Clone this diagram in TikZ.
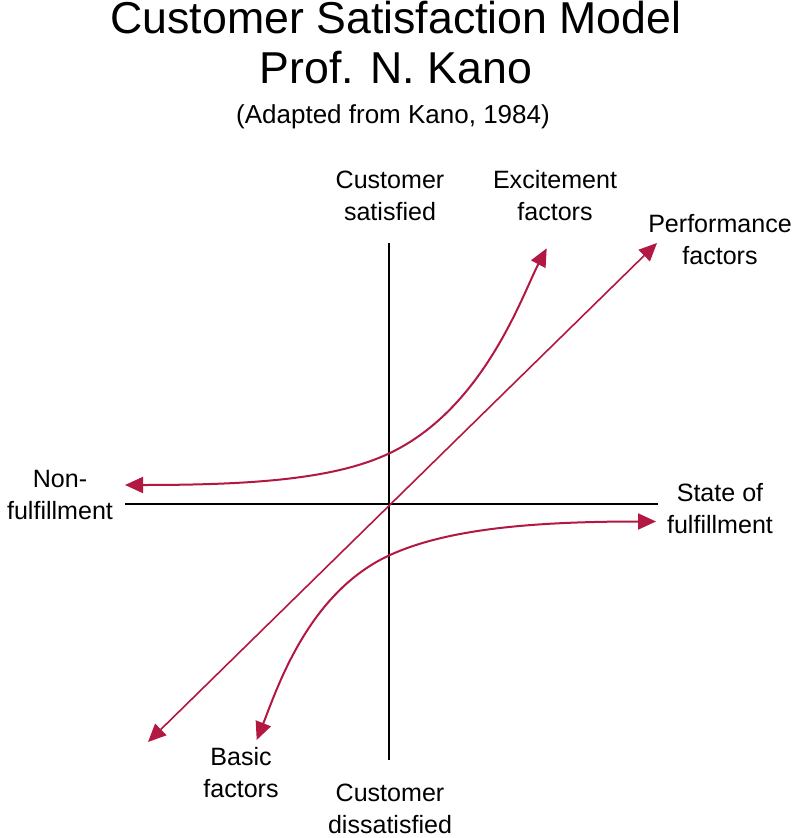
\documentclass[tikz,border=0pt]{standalone}
\usepackage{fontspec}
\setmainfont{Liberation Sans}
\usetikzlibrary{arrows.meta}
\definecolor{kanored}{RGB}{178,24,66}
\begin{document}
\begin{tikzpicture}[x=0.75pt,y=-0.75pt,
  axis/.style={line width=1.6pt, black},
  curve/.style={line width=1.5pt, kanored, {Triangle[length=13.5pt,width=12pt]}-{Triangle[length=13.5pt,width=12pt]}},
  lab/.style={font=\fontsize{18.8}{23.3}\selectfont, align=center, anchor=base, inner sep=0pt},
  ttl/.style={font=\fontsize{33.5}{40}\selectfont, anchor=base, inner sep=0pt},
  sub/.style={font=\fontsize{19.5}{23}\selectfont, anchor=base, inner sep=0pt}
  ]
\useasboundingbox[fill=white] (0,0) rectangle (795,838);
% titles
\node[ttl] (title) at (396,34) {Customer Satisfaction Model};
\node[ttl] (prof) at (396,84) {Prof. N. Kano};
\node[sub] (adapted) at (393,124) {(Adapted from Kano, 1984)};
% axes
\coordinate (O) at (389,504);
\coordinate (vtop) at (389,243);
\coordinate (vbot) at (389,760);
\coordinate (hleft) at (125,504);
\coordinate (hright) at (658,504);
\draw[axis] (vtop) -- (vbot);
\draw[axis] (hleft) -- (hright);
% performance
\coordinate (pl) at (148,742);
\coordinate (pr) at (657,243);
\draw[curve, line width=1.2pt] (pl) -- (pr);
% excitement
\coordinate (ea) at (125,485);
\coordinate (em) at (390,453);
\coordinate (eb) at (546.7,248.3);
\draw[curve] (ea) .. controls (255,485) and (336,478.8) .. (em)
                  .. controls (484.5,407.9) and (523,293) .. (eb);
% basic
\coordinate (ba) at (656,521.5);
\coordinate (bm) at (390,555);
\coordinate (bb) at (256.7,740);
\draw[curve] (ba) .. controls (525,521.5) and (444.6,530.2) .. (bm)
                  .. controls (308.1,592.3) and (277,688.9) .. (bb);
% labels
\node[lab] (sat) at (390,220) {Customer\\satisfied};
\node[lab] (exc) at (555,220) {Excitement\\factors};
\node[lab] (perf) at (720,264) {Performance\\factors};
\node[lab] (non) at (60,519) {Non-\\fulfillment};
\node[lab] (state) at (720,533) {State of\\fulfillment};
\node[lab] (basic) at (241,797) {Basic\\factors};
\node[lab] (dis) at (390,833) {Customer\\dissatisfied};
\end{tikzpicture}
\end{document}
